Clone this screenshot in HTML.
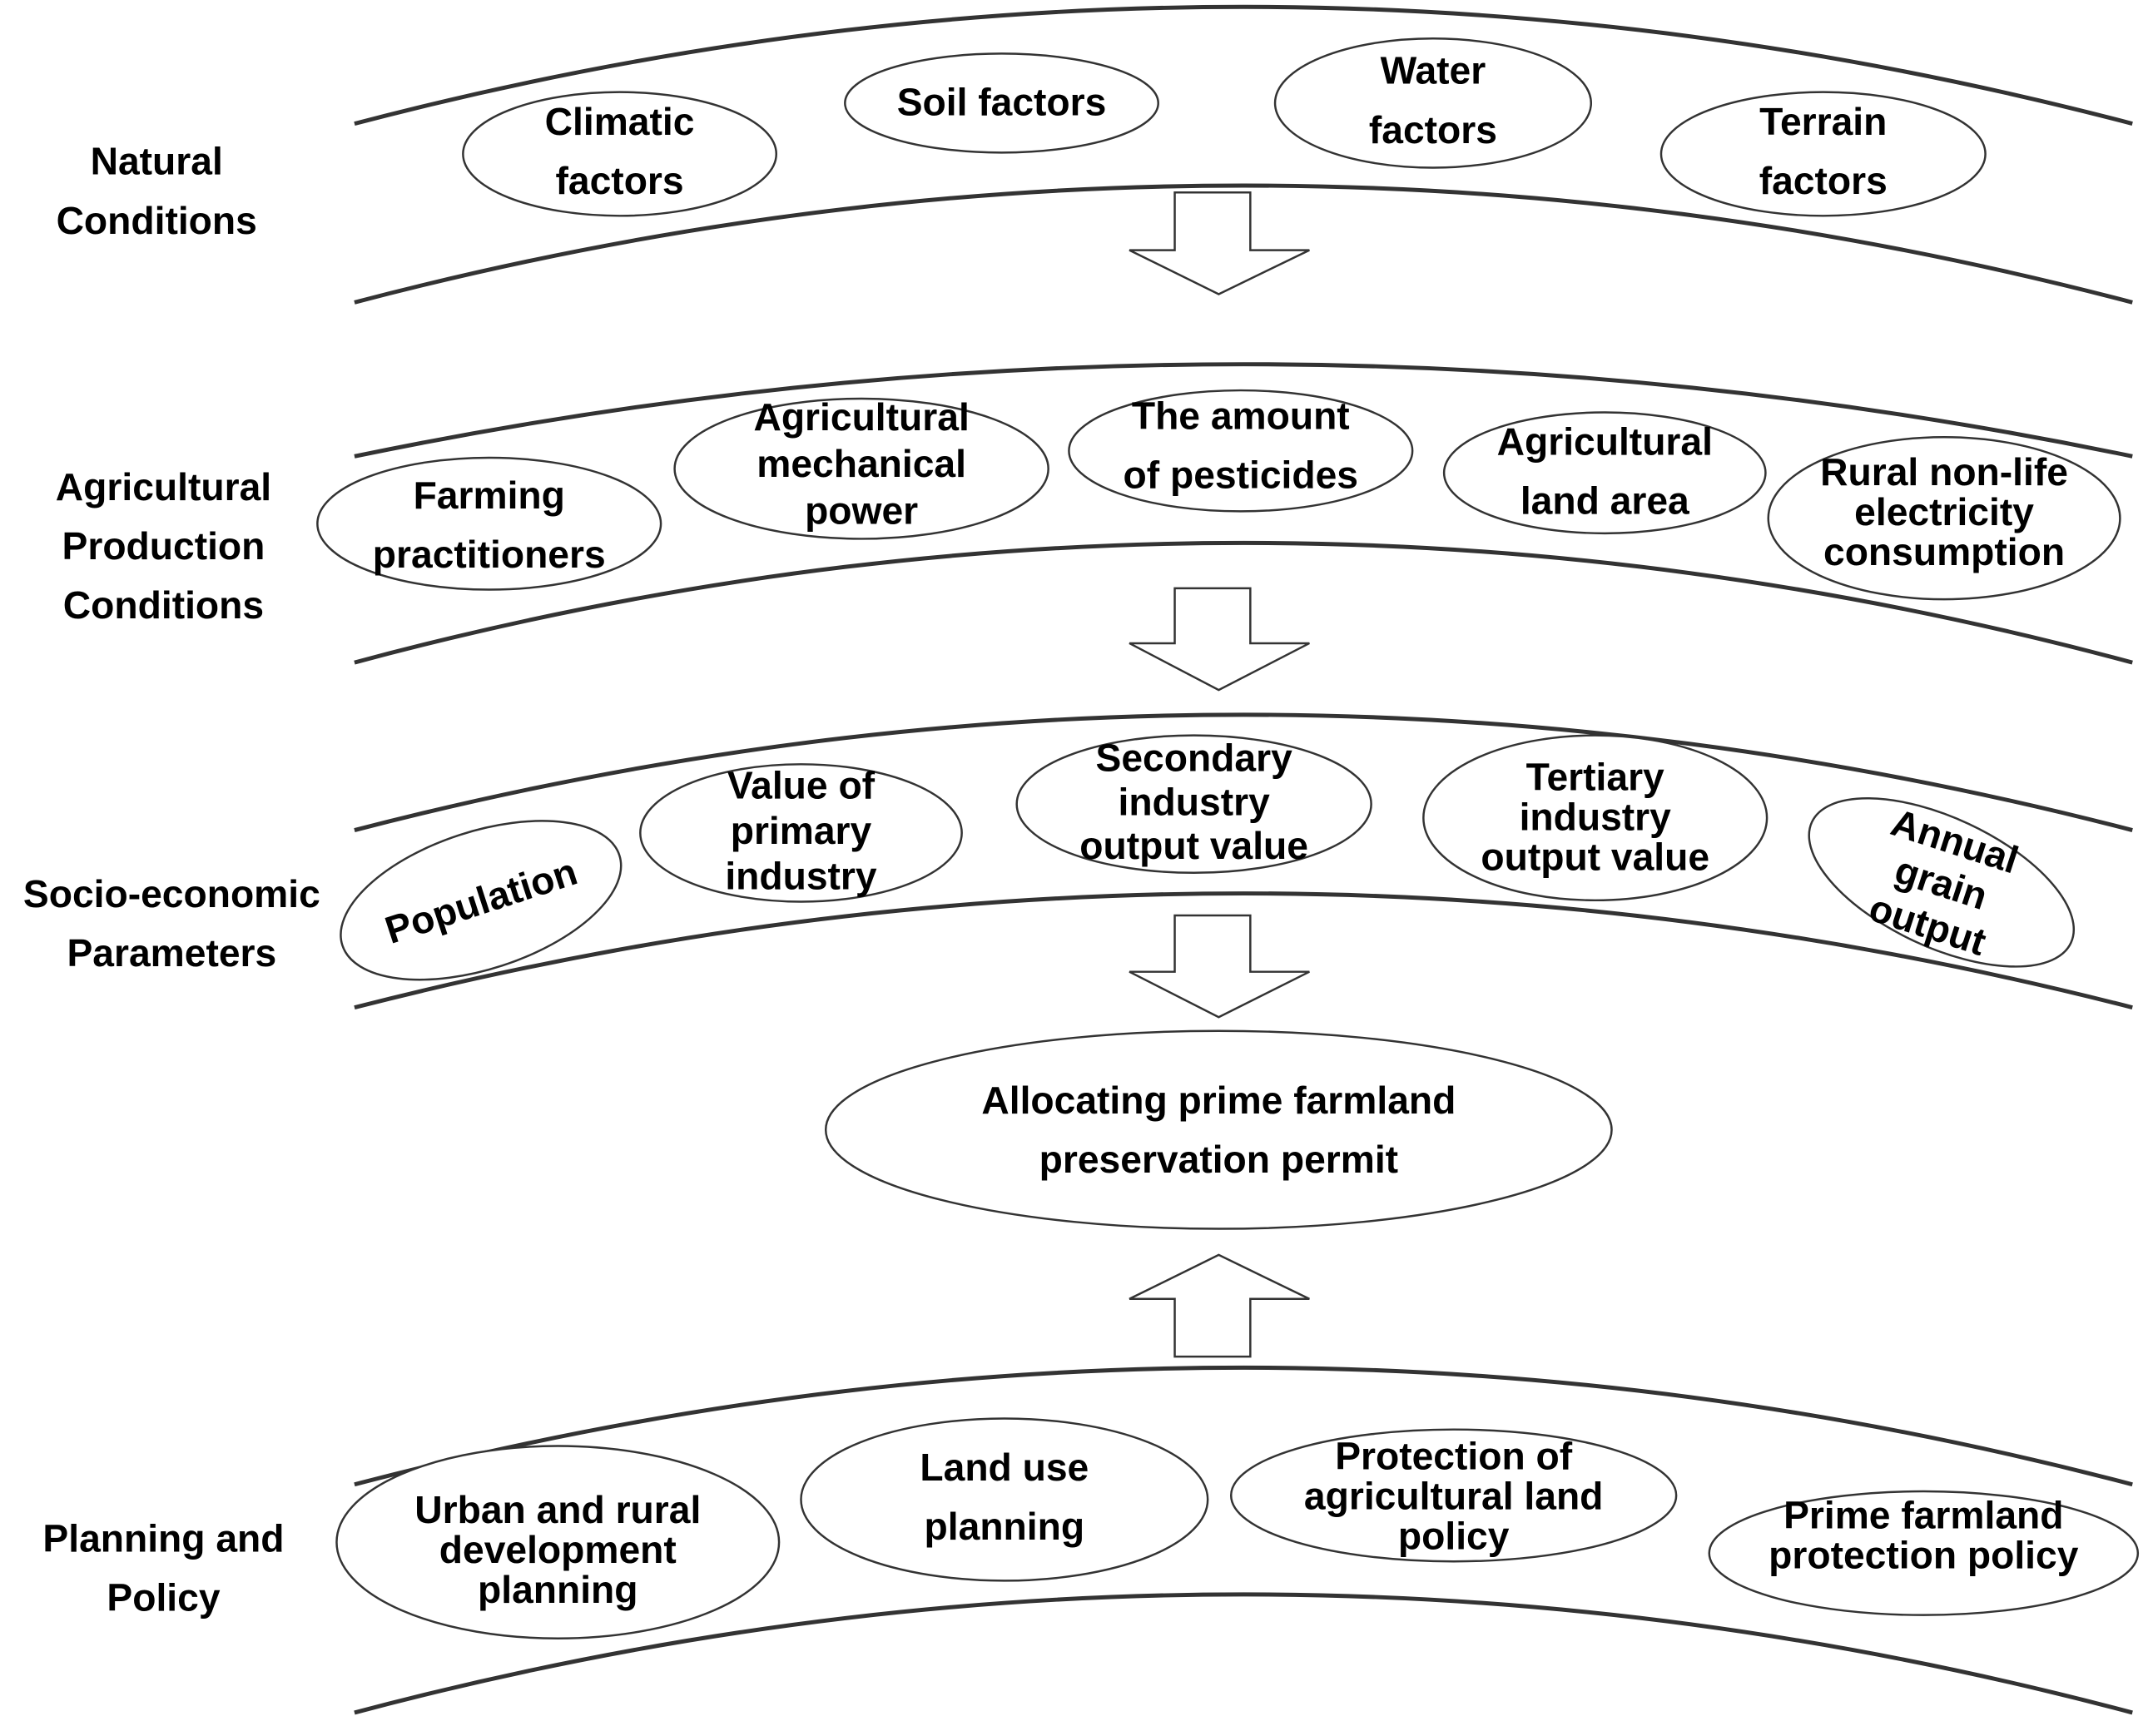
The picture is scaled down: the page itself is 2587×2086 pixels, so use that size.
<!DOCTYPE html>
<html><head><meta charset="utf-8"><style>
html,body{margin:0;padding:0;background:#fff;}
svg{display:block;}
text{font-family:"Liberation Sans",sans-serif;font-weight:bold;font-size:28px;fill:#000;text-anchor:middle;}
</style></head><body>
<svg width="2587" height="2086" viewBox="0 0 1567 1263" preserveAspectRatio="none" xmlns="http://www.w3.org/2000/svg">
<g fill="none" stroke="#333" stroke-width="3">
<path d="M258,90 Q905,-80 1552,90"/>
<path d="M258,220 Q905,50 1552,220"/>
<path d="M258,332 Q905,198 1552,332"/>
<path d="M258,482 Q905,308 1552,482"/>
<path d="M258,604 Q905,436 1552,604"/>
<path d="M258,733 Q905,567 1552,733"/>
<path d="M258,1080 Q905,910 1552,1080"/>
<path d="M258,1246 Q905,1074 1552,1246"/>
</g>
<g fill="#fff" stroke="#333" stroke-width="1.5">
<path d="M855,140 H910 V182 H953 L887,214 L822,182 H855 Z"/>
<path d="M855,428 H910 V468 H953 L887,502 L822,468 H855 Z"/>
<path d="M855,666 H910 V707 H953 L887,740 L822,707 H855 Z"/>
<path d="M855,987 H910 V945 H953 L887,913 L822,945 H855 Z"/>
<ellipse cx="451" cy="112" rx="114" ry="45"/>
<ellipse cx="729" cy="75" rx="114" ry="36"/>
<ellipse cx="1043" cy="75" rx="115" ry="47"/>
<ellipse cx="1327" cy="112" rx="118" ry="45"/>
<ellipse cx="356" cy="381" rx="125" ry="48"/>
<ellipse cx="627" cy="341" rx="136" ry="51"/>
<ellipse cx="903" cy="328" rx="125" ry="44"/>
<ellipse cx="1168" cy="344" rx="117" ry="44"/>
<ellipse cx="1415" cy="377" rx="128" ry="59"/>
<ellipse cx="350" cy="655" rx="106" ry="50" transform="rotate(-18 350 655)"/>
<ellipse cx="583" cy="606" rx="117" ry="50"/>
<ellipse cx="869" cy="585" rx="129" ry="50"/>
<ellipse cx="1161" cy="595" rx="125" ry="60"/>
<ellipse cx="1413" cy="642" rx="104" ry="47" transform="rotate(25 1413 642)"/>
<ellipse cx="887" cy="822" rx="286" ry="72"/>
<ellipse cx="406" cy="1122" rx="161" ry="70"/>
<ellipse cx="731" cy="1091" rx="148" ry="59"/>
<ellipse cx="1058" cy="1088" rx="162" ry="48"/>
<ellipse cx="1400" cy="1130" rx="156" ry="45"/>
</g>
<text x="114" y="127">Natural</text><text x="114" y="170">Conditions</text>
<text x="119" y="364">Agricultural</text><text x="119" y="407">Production</text><text x="119" y="450">Conditions</text>
<text x="125" y="660">Socio-economic</text><text x="125" y="703">Parameters</text>
<text x="119" y="1129">Planning and</text><text x="119" y="1172">Policy</text>

<text x="451" y="98">Climatic</text><text x="451" y="141">factors</text>
<text x="729" y="84">Soil factors</text>
<text x="1043" y="61">Water</text><text x="1043" y="104">factors</text>
<text x="1327" y="98">Terrain</text><text x="1327" y="141">factors</text>

<text x="356" y="370">Farming</text><text x="356" y="413">practitioners</text>
<text x="627" y="313">Agricultural</text><text x="627" y="347">mechanical</text><text x="627" y="381">power</text>
<text x="903" y="312">The amount</text><text x="903" y="355">of pesticides</text>
<text x="1168" y="331">Agricultural</text><text x="1168" y="374">land area</text>
<text x="1415" y="353">Rural non-life</text><text x="1415" y="382">electricity</text><text x="1415" y="411">consumption</text>

<text x="350" y="665" transform="rotate(-18 350 655)">Population</text>
<text x="583" y="581">Value of</text><text x="583" y="614">primary</text><text x="583" y="647">industry</text>
<text x="869" y="561">Secondary</text><text x="869" y="593">industry</text><text x="869" y="625">output value</text>
<text x="1161" y="575">Tertiary</text><text x="1161" y="604">industry</text><text x="1161" y="633">output value</text>
<g transform="rotate(18 1413 642)">
<text x="1413" y="620">Annual</text><text x="1413" y="652">grain</text><text x="1413" y="684">output</text>
</g>
<text x="887" y="810">Allocating prime farmland</text><text x="887" y="853">preservation permit</text>

<text x="406" y="1108">Urban and rural</text><text x="406" y="1137">development</text><text x="406" y="1166">planning</text>
<text x="731" y="1077">Land use</text><text x="731" y="1120">planning</text>
<text x="1058" y="1069">Protection of</text><text x="1058" y="1098">agricultural land</text><text x="1058" y="1127">policy</text>
<text x="1400" y="1112">Prime farmland</text><text x="1400" y="1141">protection policy</text>
</svg>
</body></html>
